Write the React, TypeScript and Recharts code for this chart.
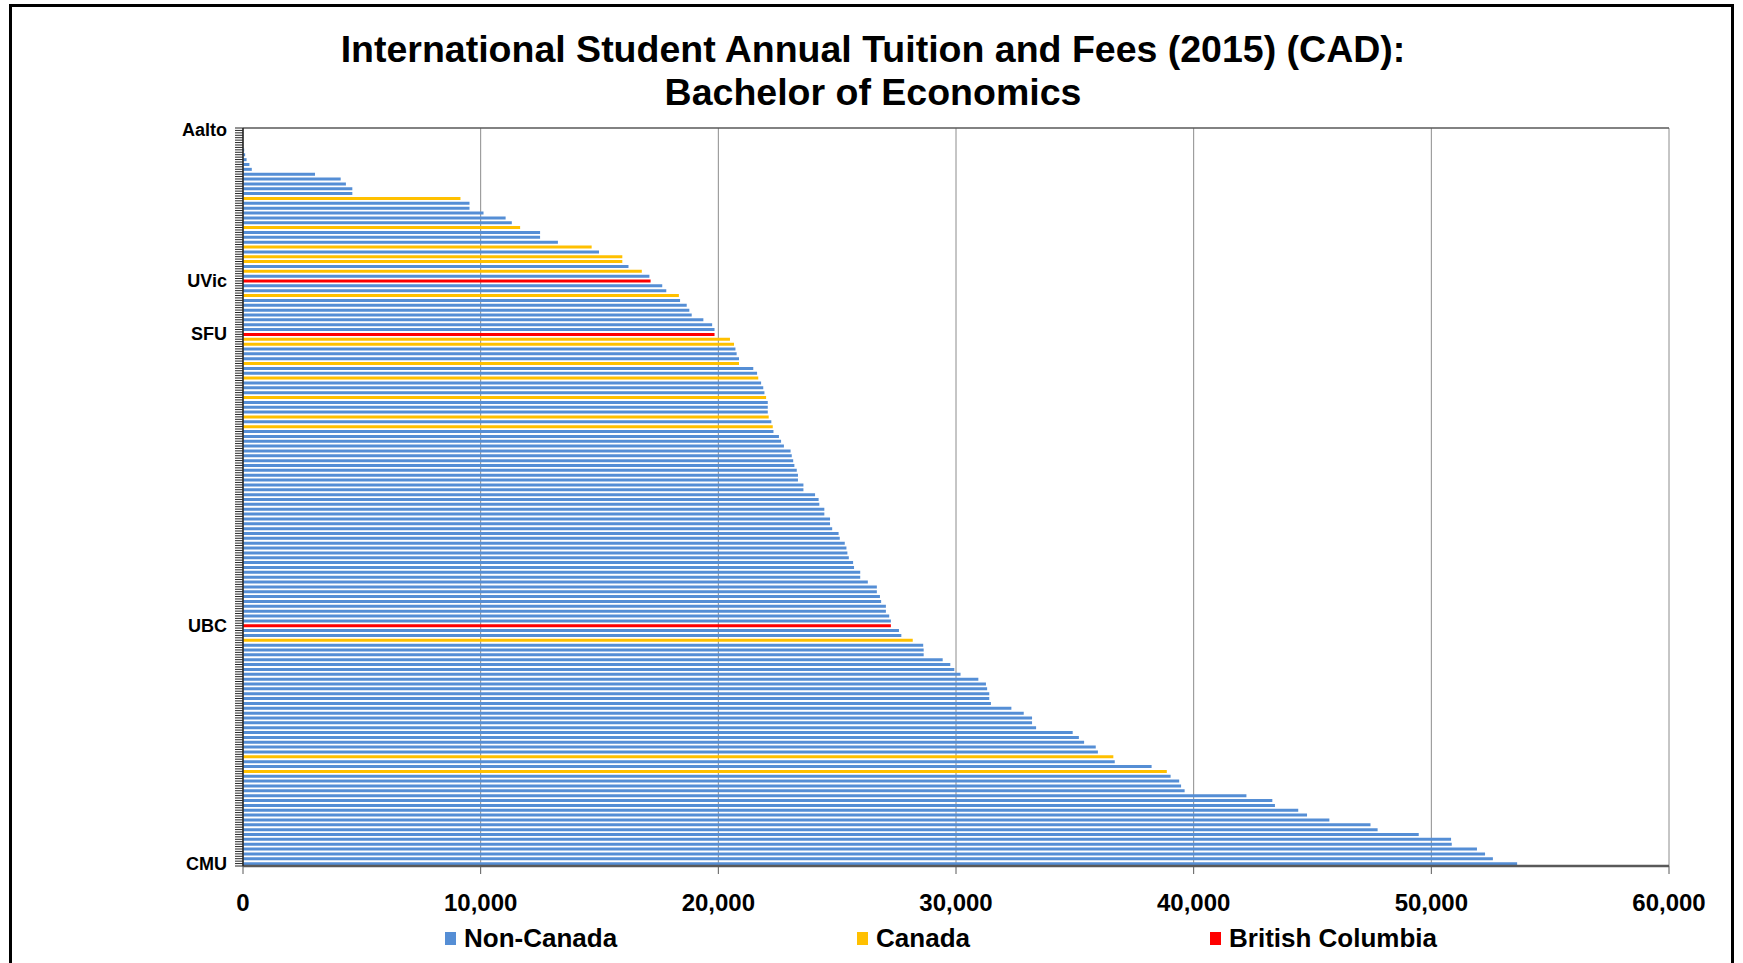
import React from 'react'
import { BarChart, Bar, XAxis, YAxis, CartesianGrid, Legend } from 'recharts'

// tuition per university, sorted ascending (CAD)
const tuition = [
  0, 0, 0, 0, 50, 90, 150, 270, 370, 3030, 4110, 4330, 4600, 4600, 9150, 9530, 9530, 10120,
  11050, 11310, 11660, 12500, 12500, 13250, 14670, 14980, 15960, 15960, 16220, 16780, 17100, 17150,
  17640, 17810, 18340, 18390, 18670, 18780, 18880, 19370, 19740, 19840, 19840, 20490, 20660, 20720,
  20770, 20870, 20870, 21470, 21630, 21680, 21800, 21890, 21940, 22010, 22080, 22080, 22080, 22120,
  22230, 22290, 22320, 22550, 22640, 22760, 23040, 23090, 23150, 23200, 23300, 23350, 23350, 23580,
  23580, 24070, 24220, 24250, 24460, 24460, 24700, 24700, 24790, 25060, 25110, 25320, 25390, 25430,
  25490, 25670, 25710, 25970, 25970, 26290, 26670, 26670, 26800, 26850, 27050, 27050, 27190, 27260,
  27260, 27600, 27700, 28180, 28620, 28640, 28640, 29440, 29760, 29930, 30190, 30940, 31260, 31310,
  31400, 31400, 31470, 32330, 32850, 33200, 33200, 33370, 34910, 35170, 35390, 35880, 35970, 36620,
  36680, 38230, 38870, 39030, 39390, 39470, 39620, 42220, 43310, 43420, 44400, 44770, 45710, 47440,
  47740, 49470, 50830, 50860, 51920, 52260, 52590, 53610,
]

// rows that are Canadian / British Columbian universities
const canadaRows = [14, 20, 24, 26, 27, 29, 34, 43, 44, 48, 51, 55, 59, 61, 105, 129, 132]
const bcRows = [31, 42, 102]

// the only rows with a label on the axis
const namedRows = ['Aalto', 'UVic', 'SFU', 'UBC', 'CMU']
const namedRowAt = [0, 31, 42, 102, 151]

const seriesNames = ['Non-Canada', 'Canada', 'British Columbia']
const xTicks = [0, 10000, 20000, 30000, 40000, 50000, 60000]

const rows = tuition.map((v, i) => {
  const n = namedRowAt.indexOf(i)
  const isBC = bcRows.includes(i)
  const isCanada = canadaRows.includes(i)
  return {
    name: n >= 0 ? namedRows[n] : '',
    nonCanada: !isBC && !isCanada ? v : 0,
    canada: isCanada ? v : 0,
    bc: isBC ? v : 0,
  }
})

const FONT = '"Liberation Sans", Arial, sans-serif'
const PLOT_TOP = 128
const PLOT_BOTTOM = 866

const YTick = (props: any) => {
  const { x, y, payload } = props
  const index = props.index ?? payload.index
  const axisX = x + 16
  const band = (PLOT_BOTTOM - PLOT_TOP) / tuition.length
  return (
    <g>
      <line x1={axisX - 8} x2={axisX} y1={y - band / 2} y2={y - band / 2} stroke='#262626' />
      {index === tuition.length - 1 && (
        <line x1={axisX - 8} x2={axisX} y1={y + band / 2} y2={y + band / 2} stroke='#262626' />
      )}
      {payload.value ? (
        <text
          x={x}
          y={y}
          textAnchor='end'
          dominantBaseline='central'
          fontSize={18}
          fontWeight='bold'
          fontFamily={FONT}
          fill='#000'
        >
          {payload.value}
        </text>
      ) : null}
    </g>
  )
}

const LegendBox = (props: any) => {
  const items = [...(props.payload || [])].sort(
    (a: any, b: any) => seriesNames.indexOf(a.value) - seriesNames.indexOf(b.value)
  )
  return (
    <div
      style={{
        display: 'flex',
        justifyContent: 'center',
        alignItems: 'center',
        gap: 240,
        paddingLeft: 139,
        height: 50,
        fontFamily: FONT,
        fontWeight: 'bold',
        fontSize: 26,
        color: '#000',
      }}
    >
      {items.map((it: any) => (
        <div key={it.value} style={{ display: 'flex', alignItems: 'center' }}>
          <span style={{ display: 'inline-block', width: 11, height: 13, background: it.color, marginRight: 8 }} />
          <span>{it.value}</span>
        </div>
      ))}
    </div>
  )
}

export default function App() {
  return (
    <div
      style={{
        position: 'absolute',
        left: 0,
        top: 0,
        width: 1743,
        height: 963,
        overflow: 'hidden',
        background: '#fff',
        fontFamily: FONT,
      }}
    >
      <div
        style={{
          position: 'absolute',
          left: 0,
          top: 28,
          width: 1746,
          textAlign: 'center',
          fontSize: 37.5,
          lineHeight: '43px',
          fontWeight: 'bold',
          color: '#000',
        }}
      >
        International Student Annual Tuition and Fees (2015) (CAD):
        <br />
        Bachelor of Economics
      </div>
      <div style={{ position: 'absolute', left: 0, top: 0 }}>
        <BarChart
          layout='vertical'
          width={1743}
          height={963}
          data={rows}
          margin={{ top: PLOT_TOP, right: 74, left: 0, bottom: 0 }}
        >
          <CartesianGrid horizontal={false} stroke='#8c8c8c' />
          <CartesianGrid vertical={false} horizontalPoints={[PLOT_TOP]} stroke='#595959' strokeWidth={1.5} />
          <XAxis
            type='number'
            domain={[0, 60000]}
            ticks={xTicks}
            interval={0}
            height={47}
            tickSize={8}
            tickMargin={20}
            axisLine={{ stroke: '#595959', strokeWidth: 2.5 }}
            tickLine={{ stroke: '#595959' }}
            tickFormatter={(v: number) => v.toLocaleString('en-US')}
            tick={{ fontSize: 24, fontWeight: 'bold', fill: '#000', fontFamily: FONT }}
          />
          <YAxis
            type='category'
            dataKey='name'
            width={243}
            interval={0}
            tickSize={8}
            tickMargin={8}
            axisLine={{ stroke: '#262626', strokeWidth: 1.5 }}
            tickLine={{ stroke: '#262626' }}
            tick={<YTick />}
          />
          <Legend
            verticalAlign='bottom'
            wrapperStyle={{ left: 0, width: 1743, height: 50 }}
            content={<LegendBox />}
          />
          <Bar dataKey='nonCanada' name='Non-Canada' stackId='a' fill='#558ED5' barSize={3} isAnimationActive={false} />
          <Bar dataKey='canada' name='Canada' stackId='a' fill='#FFC000' barSize={3} isAnimationActive={false} />
          <Bar dataKey='bc' name='British Columbia' stackId='a' fill='#FF0000' barSize={3} isAnimationActive={false} />
        </BarChart>
      </div>
      <div
        style={{
          position: 'absolute',
          left: 9,
          top: 4,
          width: 1725,
          height: 1100,
          border: '3px solid #000',
          boxSizing: 'border-box',
          pointerEvents: 'none',
        }}
      />
    </div>
  )
}
